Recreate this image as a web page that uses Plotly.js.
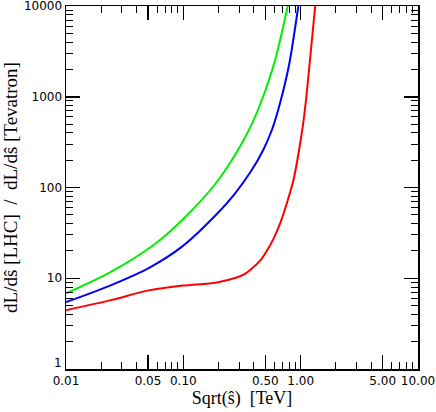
<!DOCTYPE html>
<html>
<head>
<meta charset="utf-8">
<script src="https://cdn.plot.ly/plotly-3.0.1.min.js"></script>
<style>
  html, body { margin: 0; padding: 0; background: #fff; }
  #chart { width: 436px; height: 412px; }
</style>
</head>
<body>
<div id="chart"></div>
<script>
// luminosity ratio LHC / Tevatron
const xGreen = [0.01, 0.0237, 0.0562, 0.1, 0.193, 0.294, 0.383, 0.466, 0.605, 0.776];
const yGreen = [6.8, 11.6, 23.4, 45, 115, 262, 500, 915, 2530, 10000];

const xBlue = [0.01, 0.0237, 0.052, 0.1, 0.193, 0.27, 0.371, 0.481, 0.568, 0.658, 0.796, 0.955];
const yBlue = [5.45, 8.3, 13.2, 22.9, 51, 83, 146, 261, 430, 798, 2240, 10000];

const xRed = [0.01, 0.0237, 0.052, 0.1, 0.193, 0.285, 0.33, 0.371, 0.451, 0.514, 0.585, 0.667, 0.775, 0.867, 1.04, 1.11, 1.2, 1.33];
const yRed = [4.45, 5.7, 7.4, 8.3, 9.0, 10.2, 11.0, 12.3, 15.6, 20, 27, 40, 72, 120, 464, 915, 2530, 10000];

const xTickVals = [0.01, 0.05, 0.1, 0.5, 1, 5, 10];
const xTickText = ['0.01', '0.05', '0.10', '0.50', '1.00', '5.00', '10.00'];
const xMinorVals = [0.02, 0.03, 0.04, 0.06, 0.07, 0.08, 0.09, 0.2, 0.3, 0.4, 0.6, 0.7, 0.8, 0.9, 2, 3, 4, 6, 7, 8, 9];

const yTickVals = [1, 10, 100, 1000, 10000];
const yTickText = ['', '10', '100', '1000', '10000'];   // "1" is drawn a bit higher, as an annotation
const yMinorVals = [];
[1, 10, 100, 1000].forEach(d => { for (let k = 2; k <= 9; k++) yMinorVals.push(d * k); });

const line = (x, y, color) => ({
    x: x, y: y, type: 'scatter', mode: 'lines',
    line: { color: color, width: 2, shape: 'spline', smoothing: 0.8 },
    hoverinfo: 'skip'
});

const tickFont = { family: 'DejaVu Sans', size: 12, color: '#000' };
const titleFont = { family: 'Liberation Serif', color: '#000' };

const axisBase = {
    type: 'log',
    showgrid: false, zeroline: false,
    showline: true, linecolor: '#000', linewidth: 1.5,
    mirror: 'allticks',
    ticks: 'inside', ticklen: 14, tickwidth: 1.5, tickcolor: '#000',
    tickfont: tickFont,
    ticklabeloverflow: 'allow',
    minor: { ticks: 'inside', ticklen: 7, tickwidth: 1, tickcolor: '#000', showgrid: false }
};

Plotly.newPlot('chart', [
    line(xGreen, yGreen, '#00ee00'),
    line(xBlue, yBlue, '#0000ff'),
    line(xRed, yRed, '#ff0000')
], {
    width: 436, height: 412,
    margin: { l: 66, r: 18, t: 6, b: 43 },
    paper_bgcolor: '#fff', plot_bgcolor: '#fff',
    showlegend: false,
    xaxis: Object.assign({}, axisBase, {
        range: [-2, 1],
        tickmode: 'array', tickvals: xTickVals, ticktext: xTickText,
        minor: Object.assign({}, axisBase.minor, { tickvals: xMinorVals }),
        title: { text: 'Sqrt(ŝ)\u00a0\u00a0[TeV]', font: Object.assign({ size: 18 }, titleFont), standoff: 4 }
    }),
    yaxis: Object.assign({}, axisBase, {
        range: [0, 4],
        tickmode: 'array', tickvals: yTickVals, ticktext: yTickText,
        minor: Object.assign({}, axisBase.minor, { tickvals: yMinorVals }),
        title: { text: 'dL/dŝ\u00a0[LHC]\u00a0\u00a0/\u00a0\u00a0dL/dŝ\u00a0[Tevatron]', font: Object.assign({ size: 19 }, titleFont), standoff: 10 }
    }),
    annotations: [{
        text: '1', xref: 'paper', yref: 'y', x: 0, y: 0,
        xanchor: 'right', yanchor: 'middle', xshift: -2, yshift: 6,
        showarrow: false, font: tickFont
    }]
}, { staticPlot: true });
</script>
</body>
</html>
